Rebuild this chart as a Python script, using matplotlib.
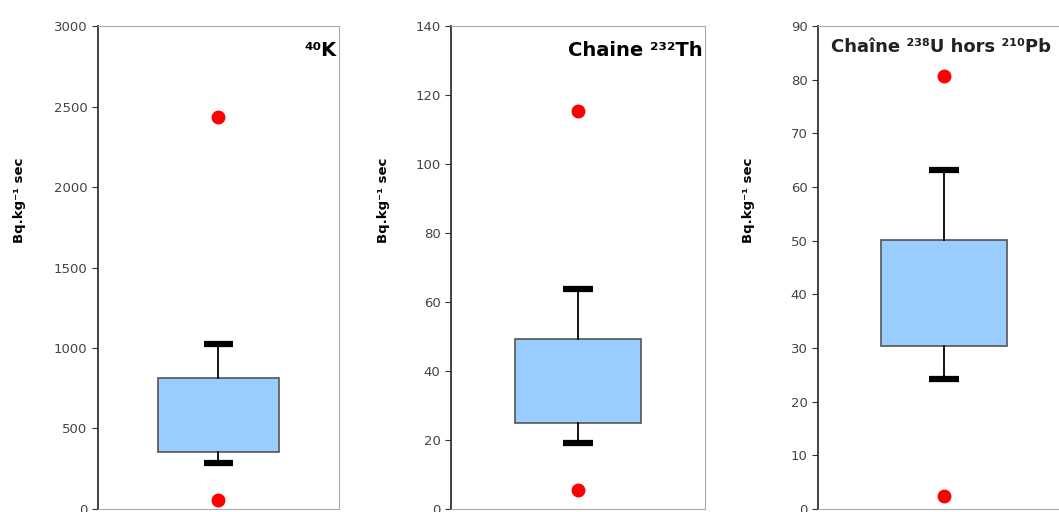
import matplotlib.pyplot as plt

# values (Bq.kg-1 sec)
titles = ["\u2074\u2070K", "Chaine \u00b2\u00b3\u00b2Th", "Cha\u00eene \u00b2\u00b3\u2078U hors \u00b2\u00b9\u2070Pb"]
whislo = [286, 19.1, 24.2]
q1 = [354, 24.9, 30.4]
q3 = [814, 49.3, 50.1]
whishi = [1025, 63.8, 63.2]
out_low = [56, 5.5, 2.4]
out_high = [2435, 115.4, 80.7]
ymax = [3000, 140, 90]
ystep = [500, 20, 10]

fig = plt.figure(figsize=(10.59, 5.12), dpi=100)
positions = [[0.0925, 0.006, 0.2276, 0.943],
             [0.4259, 0.006, 0.2398, 0.943],
             [0.7724, 0.006, 0.238, 0.943]]
ylab_x = [-0.30, -0.24, -0.25]

for i in range(3):
    ax = fig.add_axes(positions[i])
    stats = [dict(med=q1[i], q1=q1[i], q3=q3[i], whislo=whislo[i], whishi=whishi[i],
                  fliers=[out_low[i], out_high[i]])]
    ax.bxp(stats, positions=[1], widths=0.5, patch_artist=True, showfliers=True,
           boxprops=dict(facecolor='#99ccff', edgecolor='#555555', linewidth=1.2),
           whiskerprops=dict(color='black', linewidth=1.3),
           capprops=dict(color='black', linewidth=4.5, solid_capstyle='butt'),
           medianprops=dict(visible=False),
           capwidths=0.12,
           flierprops=dict(marker='o', markerfacecolor='red', markeredgecolor='red', markersize=9))
    ax.set_xlim(0.5, 1.5)
    ax.set_ylim(0, ymax[i])
    ax.set_yticks(range(0, ymax[i] + 1, ystep[i]))
    ax.set_xticks([])
    ax.tick_params(axis='y', labelsize=9.5, labelcolor='#444444', length=4, color='#333333')
    for s in ['top', 'right', 'bottom']:
        ax.spines[s].set_color('#aaaaaa')
    ax.spines['left'].set_color('#333333')
    ax.spines['left'].set_linewidth(1.3)
    ax.set_ylabel('Bq.kg\u207b\u00b9 sec', fontsize=9.5, fontweight='bold')
    ax.yaxis.set_label_coords(ylab_x[i], 0.64)
    if i == 2:
        ax.text(0.05, 0.975, titles[i], transform=ax.transAxes, ha='left', va='top',
                fontsize=13, fontweight='bold', color='#222222')
    else:
        ax.text(0.99, 0.97, titles[i], transform=ax.transAxes, ha='right', va='top',
                fontsize=14, fontweight='bold')

plt.savefig("out.png", dpi=100)
